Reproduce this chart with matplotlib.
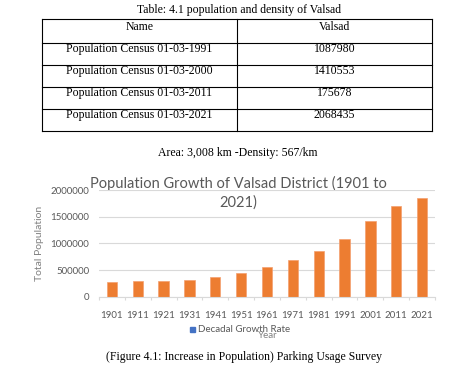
import matplotlib
matplotlib.use("Agg")
import matplotlib.pyplot as plt
from matplotlib.lines import Line2D

# ---- data ----
table_title = "Table: 4.1 population and density of Valsad"
table_header = ["Name", "Valsad"]
table_names = ["Population Census 01-03-1991", "Population Census 01-03-2000",
               "Population Census 01-03-2011", "Population Census 01-03-2021"]
table_values = ["1087980", "1410553", "175678", "2068435"]
area_text = "Area: 3,008 km -Density: 567/km"

years = ["1901", "1911", "1921", "1931", "1941", "1951", "1961",
         "1971", "1981", "1991", "2001", "2011", "2021"]
population = [269000, 287000, 287000, 312000, 369000, 444000, 550000,
              694000, 862000, 1087980, 1410553, 1700000, 1850000]
y_ticks = [0, 500000, 1000000, 1500000, 2000000]
chart_title = "Population Growth of Valsad District (1901 to\n2021)"
caption = "(Figure 4.1: Increase in Population) Parking Usage Survey"

W, H = 468, 371
fig = plt.figure(figsize=(W / 100, H / 100), dpi=100)
fig.patch.set_facecolor("white")

serif = "Liberation Serif"
sans = "Lato"
gray = "#595959"
fs_serif = 8.5

# ---- overlay axes in pixel coords ----
ov = fig.add_axes([0, 0, 1, 1])
ov.set_xlim(0, W)
ov.set_ylim(H, 0)
ov.axis("off")

ov.text(239, 10, table_title, family=serif, fontsize=fs_serif, ha="center", va="center")

left, mid, right = 41.7, 237.3, 431.7
rows_y = [19, 43, 65, 87, 109, 130.5]
for y in rows_y:
    ov.add_line(Line2D([left, right], [y, y], color="black", lw=0.8))
for x in (left, mid, right):
    ov.add_line(Line2D([x, x], [rows_y[0], rows_y[-1]], color="black", lw=0.8))

c1 = (left + mid) / 2
c2 = (mid + right) / 2
ov.text(c1, rows_y[0] + 8, table_header[0], family=serif, fontsize=fs_serif, ha="center", va="center")
ov.text(c2, rows_y[0] + 8, table_header[1], family=serif, fontsize=fs_serif, ha="center", va="center")
for i, (n, v) in enumerate(zip(table_names, table_values)):
    yy = rows_y[i + 1] + 6
    ov.text(c1, yy, n, family=serif, fontsize=fs_serif, ha="center", va="center")
    ov.text(c2, yy, v, family=serif, fontsize=fs_serif, ha="center", va="center")

ov.text(238, 153, area_text, family=serif, fontsize=fs_serif, ha="center", va="center")
ov.text(243.5, 357, caption, family=serif, fontsize=fs_serif, ha="center", va="center")

# chart title, y label, legend, x label
ov.text(238, 193, chart_title, family=sans, fontsize=10.5, color=gray,
        ha="center", va="center", linespacing=1.35)
ov.text(39.7, 243, "Total Population", family=sans, fontsize=7.5, color="#808080",
        ha="center", va="center", rotation=90)
ov.add_patch(plt.Rectangle((190, 327), 5, 5, color="#4472C4"))
ov.text(198, 330, "Decadal Growth Rate", family=sans, fontsize=7, color=gray,
        ha="left", va="center")
ov.text(268, 336, "Year", family=sans, fontsize=7, color="#808080",
        ha="center", va="center")

# ---- bar chart ----
x0, x1 = 99, 435
ytop, ybot = 190, 296.7
ax = fig.add_axes([x0 / W, 1 - ybot / H, (x1 - x0) / W, (ybot - ytop) / H])
ax.set_facecolor("none")
pos = list(range(len(years)))
ax.bar(pos, population, width=0.4, color="#ED7D31", edgecolor="#F4A070",
       linewidth=0.5, zorder=3)
ax.set_xlim(-0.5, len(years) - 0.5)
ax.set_ylim(0, 2000000)
ax.set_yticks(y_ticks)
ax.set_yticklabels([str(t) for t in y_ticks], family=sans, fontsize=7, color=gray)
ax.set_xticks(pos)
ax.set_xticklabels(years, family=sans, fontsize=7, color=gray)
ax.set_xticks([p - 0.5 for p in pos] + [len(years) - 0.5], minor=True)
ax.tick_params(axis="x", which="major", length=0, pad=10)
ax.tick_params(axis="x", which="minor", length=2.5, color="#D9D9D9", width=0.8)
ax.tick_params(axis="y", length=0, pad=7)
ax.grid(axis="y", color="#D9D9D9", lw=0.8, zorder=0)
for s in ("top", "right", "left"):
    ax.spines[s].set_visible(False)
ax.spines["bottom"].set_color("#D9D9D9")
ax.spines["bottom"].set_linewidth(0.8)
ax.spines["bottom"].set_zorder(4)

fig.savefig("out.png", dpi=100, facecolor="white")
